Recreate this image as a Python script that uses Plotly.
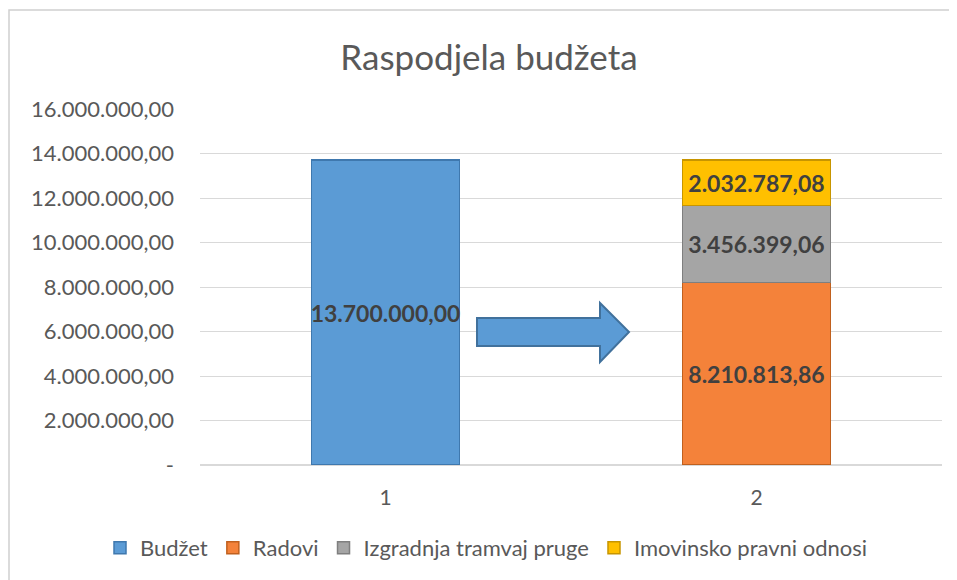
import plotly.graph_objects as go

categories = ["1", "2"]
series_names = ["Budžet", "Radovi", "Izgradnja tramvaj pruge", "Imovinsko pravni odnosi"]
budzet = [13700000.00, None]
radovi = [None, 8210813.86]
izgradnja = [None, 3456399.06]
imovinsko = [None, 2032787.08]
tick_vals = [0, 2000000, 4000000, 6000000, 8000000, 10000000, 12000000, 14000000, 16000000]
tick_text = ["-", "2.000.000,00", "4.000.000,00", "6.000.000,00", "8.000.000,00",
             "10.000.000,00", "12.000.000,00", "14.000.000,00", "16.000.000,00"]

colors = ["#5B9BD5", "#F4823A", "#A5A5A5", "#FFC000"]
edges = ["#3F78AE", "#C0601E", "#7F7F7F", "#C79500"]
FONT = "Lato, sans-serif"

fig = go.Figure()
for name, vals, c, e in zip(series_names, [budzet, radovi, izgradnja, imovinsko], colors, edges):
    fig.add_trace(go.Bar(
        name=name, x=categories, y=vals, width=0.4,
        marker=dict(color=c, line=dict(color=e, width=1.5)),
        texttemplate="<b>%{y:,.2f}</b>", textposition="inside", textangle=0,
        insidetextanchor="middle", constraintext="none",
        textfont=dict(family=FONT, size=23, color="#404040"),
    ))

# page body has an 8px margin; work in screen pixels
OFF = 8
W, H = 957, 580
L, R, T, B = 200 - OFF, W - (942 - OFF), 109 - OFF, H - (465 - OFF)
pw, ph = W - L - R, H - T - B
def px(x): return (x - OFF - L) / pw
def py(y): return (H - B - (y - OFF)) / ph

arrow = (f"M {px(477)} {py(318)} L {px(600)} {py(318)} L {px(600)} {py(303)} "
         f"L {px(629)} {py(332)} L {px(600)} {py(362)} L {px(600)} {py(346)} "
         f"L {px(477)} {py(346)} Z")
fig.add_shape(type="path", path=arrow, xref="paper", yref="paper",
              fillcolor="#5B9BD5", line=dict(color="#41719C", width=2), layer="above")
fig.add_shape(type="rect", xref="paper", yref="paper",
              x0=px(9), x1=px(980), y0=py(600), y1=py(10),
              line=dict(color="#D0D0D0", width=1.5), layer="below")

fig.update_layout(
    width=W, height=H, barmode="stack", separators=",.",
    margin=dict(l=L, r=R, t=T, b=B, autoexpand=False),
    paper_bgcolor="white", plot_bgcolor="white",
    font=dict(family=FONT, color="#595959"),
    title=dict(text="Raspodjela budžeta", x=(489 - OFF) / W, xanchor="center",
               y=1 - (58 - OFF) / H, yanchor="middle", xref="container", yref="container",
               font=dict(family=FONT, size=35, color="#595959")),
    xaxis=dict(type="category", showgrid=False, showline=False, ticks="",
               tickfont=dict(size=21, color="#595959"), ticklabelstandoff=18),
    yaxis=dict(range=[0, 16000000], tickvals=tick_vals, ticktext=tick_text,
               showgrid=True, gridcolor="#D9D9D9", gridwidth=1, zeroline=True,
               zerolinecolor="#D9D9D9", showline=False, ticks="",
               tickfont=dict(size=22, color="#595959"), ticklabelstandoff=25),
    legend=dict(orientation="h", x=px(100), xanchor="left", xref="paper",
                y=py(548), yref="paper", yanchor="middle",
                font=dict(size=22, color="#595959"), traceorder="normal",
                itemwidth=30),
    showlegend=True,
)
fig.write_html("out.html")
